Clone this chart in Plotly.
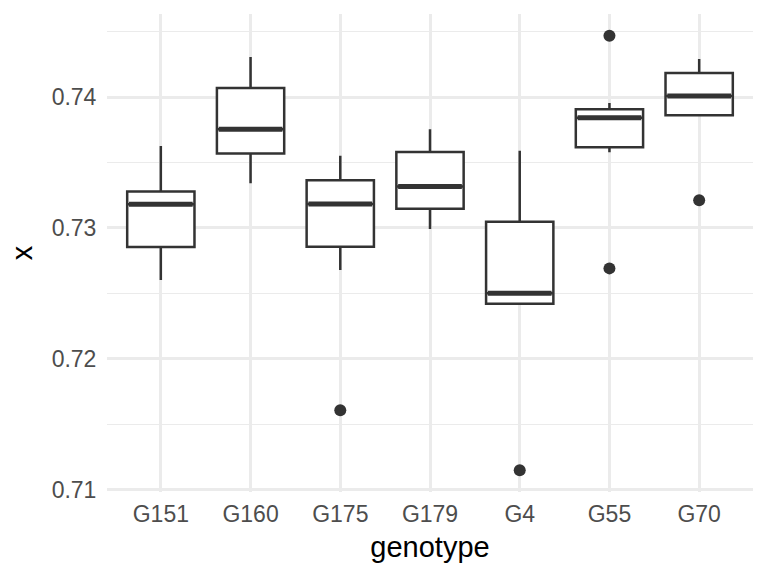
import plotly.graph_objects as go

genotypes = ["G151", "G160", "G175", "G179", "G4", "G55", "G70"]
lower_whisker = [0.72602, 0.73342, 0.72678, 0.72992, 0.72411, 0.73579, 0.73862]
q1 = [0.72854, 0.73568, 0.72857, 0.73147, 0.72420, 0.73617, 0.73862]
median = [0.73181, 0.73755, 0.73183, 0.73316, 0.72500, 0.73842, 0.74008]
q3 = [0.73278, 0.74069, 0.73365, 0.73581, 0.73048, 0.73908, 0.74184]
upper_whisker = [0.73627, 0.74306, 0.73551, 0.73755, 0.73589, 0.73954, 0.74291]
outlier_group = ["G175", "G4", "G55", "G55", "G70"]
outlier_value = [0.71607, 0.71148, 0.74469, 0.72691, 0.73212]

y_ticks = [0.71, 0.72, 0.73, 0.74]
y_tick_labels = ["0.71", "0.72", "0.73", "0.74"]
y_minor_ticks = [0.715, 0.725, 0.735, 0.745]

LINE = "#333333"
GRID = "#EBEBEB"
FONT = "Liberation Sans, Arial, sans-serif"
BOX_W = 0.75

pos = {g: i for i, g in enumerate(genotypes)}

fig = go.Figure()
for i, g in enumerate(genotypes):
    fig.add_trace(go.Box(
        x=[i], q1=[q1[i]], median=[median[i]], q3=[q3[i]],
        lowerfence=[lower_whisker[i]], upperfence=[upper_whisker[i]],
        boxpoints=False, width=BOX_W, whiskerwidth=0,
        fillcolor="white", line=dict(color=LINE, width=2.5),
        showlegend=False, hoverinfo="skip", name=g,
    ))
    fig.add_trace(go.Scatter(
        x=[i - BOX_W / 2 + 0.02, i + BOX_W / 2 - 0.02], y=[median[i], median[i]],
        mode="lines", line=dict(color=LINE, width=5),
        showlegend=False, hoverinfo="skip",
    ))

fig.add_trace(go.Scatter(
    x=[pos[g] for g in outlier_group], y=outlier_value, mode="markers",
    marker=dict(color=LINE, size=12, line=dict(width=0)),
    showlegend=False, hoverinfo="skip",
))

fig.update_layout(
    width=768, height=576,
    margin=dict(l=107, r=15, t=14, b=84),
    paper_bgcolor="white", plot_bgcolor="white",
    font=dict(family=FONT),
    xaxis=dict(
        range=[-0.6, len(genotypes) - 1 + 0.6],
        tickmode="array", tickvals=list(range(len(genotypes))), ticktext=genotypes,
        showgrid=True, gridcolor=GRID, gridwidth=2.5, zeroline=False, showline=False,
        ticks="outside", ticklen=1, tickcolor="rgba(0,0,0,0)",
        tickfont=dict(size=23, color="#4D4D4D", family=FONT),
        title=dict(text="genotype", font=dict(size=29, color="black", family=FONT), standoff=11),
    ),
    yaxis=dict(
        range=[0.70982, 0.74635],
        tickmode="array", tickvals=y_ticks, ticktext=y_tick_labels,
        showgrid=True, gridcolor=GRID, gridwidth=2.5, zeroline=False, showline=False,
        ticks="outside", ticklen=5, tickcolor="rgba(0,0,0,0)",
        tickfont=dict(size=23, color="#4D4D4D", family=FONT),
        minor=dict(tickvals=y_minor_ticks, showgrid=True, gridcolor=GRID, gridwidth=1.2),
        title=dict(text="x", font=dict(size=29, color="black", family=FONT), standoff=10),
    ),
)

fig.write_html("out.html")
